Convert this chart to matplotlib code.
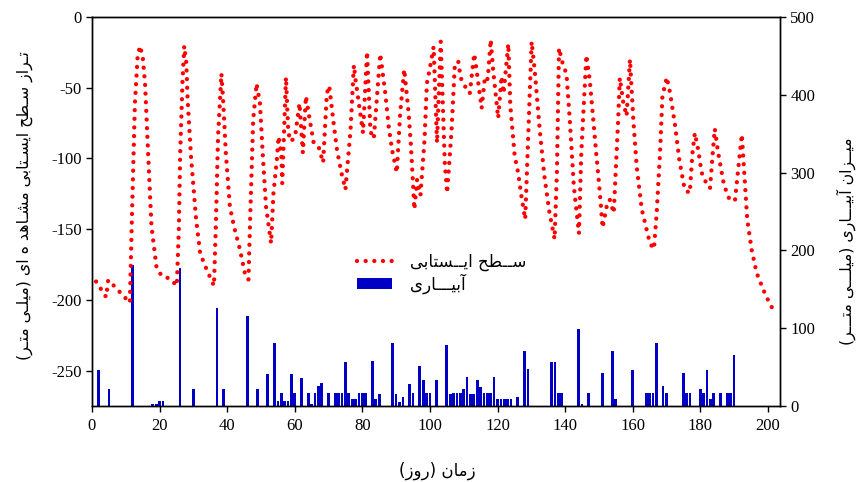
import matplotlib
matplotlib.use("Agg")
import matplotlib.pyplot as plt
from matplotlib.lines import Line2D
from matplotlib.patches import Patch

# ---------------- data ----------------
# water-table level (left axis, mm) : vertices
wt_day = [1.2, 4.2, 4.8, 5.7, 11.2, 11.8, 12.7, 13.5, 14.2, 15.0, 15.7, 16.6, 17.6,
          19.1, 20.6, 23.1, 25.1, 25.7, 26.1, 26.8, 27.3, 27.9, 28.3, 29.3, 30.8,
          32.0, 34.0, 36.1, 36.7, 37.3, 38.3, 38.8, 39.6, 40.8, 42.0, 43.8, 45.3,
          46.3, 46.8, 47.7, 48.7, 49.7, 50.5, 51.5, 52.7, 53.0, 53.7, 54.7, 55.2,
          56.0, 56.3, 57.4, 58.1, 58.9, 60.1, 61.4, 62.4, 63.3, 64.1, 65.6, 67.1,
          68.4, 69.5, 70.2, 71.5, 72.5, 73.8, 75.0, 76.5, 77.5, 78.0, 78.9, 80.2,
          81.4, 82.4, 83.4, 85.3, 86.8, 87.8, 88.8, 90.2, 91.2, 92.4, 93.7, 94.4,
          95.4, 96.2, 97.2, 98.4, 99.1, 100.0, 101.1, 102.1, 103.2, 104.4, 105.1,
          106.4, 107.4, 108.4, 109.1, 110.3, 111.8, 113.1, 113.8, 115.3, 116.3,
          117.1, 118.0, 118.7, 120.2, 121.2, 121.8, 123.2, 123.8, 125.1, 126.1,
          127.1, 128.2, 129.1, 130.1, 131.0, 132.5, 133.9, 135.4, 136.9, 137.6,
          138.2, 139.4, 140.4, 141.4, 142.6, 144.1, 144.8, 146.3, 147.3, 149.2,
          150.3, 151.1, 152.3, 153.2, 154.4, 155.7, 156.2, 157.2, 158.2, 159.2,
          160.2, 161.2, 162.7, 164.1, 165.1, 166.3, 167.1, 168.1, 168.8, 170.1,
          171.1, 172.6, 173.8, 175.4, 176.9, 177.7, 178.4, 179.4, 180.4, 181.7,
          182.9, 183.7, 184.3, 185.3, 187.0, 188.8, 190.3, 191.3, 192.3, 193.3,
          193.9, 195.2, 196.7, 198.7, 200.8, 202.4]
wt_val = [-187, -198, -186, -188, -202, -143, -61, -28, -20.5, -28, -47, -96, -148,
          -177, -183, -185, -190, -150, -96, -44.5, -20.5, -32, -58.6, -98.6, -143,
          -167, -179, -190, -143, -84.5, -40, -58.6, -96, -134, -148, -164.5, -182,
          -185.7, -143, -72.7, -47, -61, -96, -134, -155, -160, -124.5, -101, -84.5,
          -96, -117.5, -42.6, -82, -88, -84.5, -61, -96, -56, -68, -89, -92,
          -103, -54, -48.7, -75, -94, -110, -122, -80, -34, -44.5, -60, -82,
          -24.5, -81, -86, -26, -54, -77.5, -94, -110, -68, -37, -68, -91.5,
          -136, -115, -126, -87, -47, -36, -21, -89, -17.4, -103, -124.5,
          -80, -32.7, -31.6, -43, -48.7, -54, -26, -37.4, -64.5, -42,
          -44, -16, -37.4, -71.5, -42, -54, -19, -63, -98.6, -110,
          -127, -143, -84.5, -17.4, -37.4, -80, -113, -138.6, -157, -108,
          -22, -34, -40, -73, -120, -153, -96, -27, -44.5, -96,
          -124.5, -149, -134, -129, -138.6, -73, -43, -60, -70, -30,
          -73, -106, -136, -150, -160, -164, -138.6, -96, -56, -42.6,
          -54, -77.5, -101, -122, -124.5, -96, -82, -94, -110, -117,
          -121, -96, -79, -96, -118.6, -130, -129, -106, -83, -120,
          -143, -164.5, -181, -193, -204, -209]

# irrigation (right axis, mm)
irr_day = [2, 5, 12, 18, 19, 20, 21, 26, 30, 37, 39, 46, 49, 52, 54, 55, 56, 57, 58,
           59, 60, 62, 64, 65, 66, 67, 68, 70, 72, 73, 74, 75, 76, 77, 78, 79, 80,
           81, 83, 84, 85, 89, 90, 91, 92, 94, 95, 97, 98, 99, 100, 102, 105, 106,
           107, 108, 109, 110, 111, 112, 113, 114, 115, 116, 117, 118, 119, 120,
           121, 122, 123, 124, 126, 128, 129, 136, 137, 138, 139, 144, 145, 147,
           151, 154, 155, 160, 164, 165, 166, 167, 169, 170, 175, 176, 177, 180,
           181, 182, 183, 184, 186, 188, 189, 190]
irr_val = [46, 22, 181, 3, 3, 6, 6, 177, 22, 126, 22, 116, 22, 41, 81, 6, 17, 6, 6,
           41, 17, 36, 17, 3, 17, 26, 30, 17, 17, 17, 17, 57, 17, 9, 9, 17, 17,
           17, 58, 9, 16, 81, 16, 5, 11, 28, 17, 51, 33, 17, 17, 33, 78, 16,
           17, 17, 17, 22, 37, 15, 15, 33, 24, 17, 17, 17, 37, 9,
           9, 9, 9, 9, 11, 71, 48, 57, 57, 17, 17, 99, 3, 17,
           42, 71, 9, 46, 17, 17, 17, 81, 26, 17, 42, 17, 17, 22,
           17, 46, 9, 17, 17, 17, 17, 66]

x_ticks = list(range(0, 201, 20))
left_ticks = [0, -50, -100, -150, -200, -250]
right_ticks = [0, 100, 200, 300, 400, 500]

left_label = "تـراز سـطح ایسـتابی مشـاهد ه ای (میلـی متـر)"
right_label = "میــزان آبیـــاری (میلـــی متـــر)"
x_label = "زمان (روز)"
leg_line = "ســطح ایــستابی"
leg_bar = "آبیـــاری"

# ---------------- simple Persian shaping (presentation forms, visual order) ----------------
FORMS = {
    'آ': ('\uFE81', '\uFE82'),
    'ا': ('\uFE8D', '\uFE8E'),
    'ب': ('\uFE8F', '\uFE90', '\uFE91', '\uFE92'),
    'ت': ('\uFE95', '\uFE96', '\uFE97', '\uFE98'),
    'ح': ('\uFEA1', '\uFEA2', '\uFEA3', '\uFEA4'),
    'د': ('\uFEA9', '\uFEAA'),
    'ر': ('\uFEAD', '\uFEAE'),
    'ز': ('\uFEAF', '\uFEB0'),
    'س': ('\uFEB1', '\uFEB2', '\uFEB3', '\uFEB4'),
    'ش': ('\uFEB5', '\uFEB6', '\uFEB7', '\uFEB8'),
    'ط': ('\uFEC1', '\uFEC2', '\uFEC3', '\uFEC4'),
    'ل': ('\uFEDD', '\uFEDE', '\uFEDF', '\uFEE0'),
    'م': ('\uFEE1', '\uFEE2', '\uFEE3', '\uFEE4'),
    'ن': ('\uFEE5', '\uFEE6', '\uFEE7', '\uFEE8'),
    'ه': ('\uFEE9', '\uFEEA', '\uFEEB', '\uFEEC'),
    'و': ('\uFEED', '\uFEEE'),
    'ی': ('\uFEEF', '\uFEF0', '\uFEF3', '\uFEF4'),
}
TATWEEL = '\u0640'


def _dual(c):
    return c == TATWEEL or (c in FORMS and len(FORMS[c]) == 4)


def _joins(c):
    return c == TATWEEL or c in FORMS


def shape(s):
    out = []
    n = len(s)
    for i, c in enumerate(s):
        if c not in FORMS:
            out.append(c)
            continue
        prev = s[i - 1] if i > 0 else ''
        nxt = s[i + 1] if i + 1 < n else ''
        jp = prev != '' and _dual(prev)
        jn = len(FORMS[c]) == 4 and nxt != '' and _joins(nxt)
        f = FORMS[c]
        if jp and jn:
            g = f[3]
        elif jp:
            g = f[1]
        elif jn:
            g = f[2]
        else:
            g = f[0]
        out.append(g)
    vis = ''.join(reversed(out))
    return vis.translate(str.maketrans('()', ')('))


# ---------------- figure ----------------
plt.rcParams['axes.unicode_minus'] = False
SERIF = ['Liberation Serif', 'DejaVu Sans']
AR = ['DejaVu Sans', 'Liberation Serif']

fig = plt.figure(figsize=(8.57, 4.82), dpi=100)
ax = fig.add_axes([92 / 857, 1 - 406 / 482, (780 - 92) / 857, (406 - 17) / 482])
ax2 = ax.twinx()
ax.set_zorder(ax2.get_zorder() + 1)
ax.patch.set_visible(False)

RED = '#ff0000'
BLUE = '#0000c4'
DOTS = (0, (0.01, 2.0))

ax2.bar(irr_day, irr_val, width=0.8, color=BLUE, linewidth=0)
ax.plot(wt_day, wt_val, color=RED, linewidth=3.1, linestyle=DOTS, dash_capstyle='round')

ax.set_xlim(0, 203.6)
ax.set_ylim(-275, 0)
ax2.set_ylim(0, 500)

ax.set_xticks(x_ticks)
ax.set_yticks(left_ticks)
ax2.set_yticks(right_ticks)
for a in (ax, ax2):
    a.tick_params(direction='out', length=4, width=1, labelsize=12, colors='black')
    for lab in a.get_xticklabels() + a.get_yticklabels():
        lab.set_family(SERIF)
    for sp in a.spines.values():
        sp.set_linewidth(1.0)
ax.tick_params(axis='x', pad=5)

fig.text(25 / 857, 1 - 206 / 482, shape(left_label), rotation=90, ha='center', va='center',
         fontsize=11.3, family=AR)
fig.text(846 / 857, 1 - 241 / 482, shape(right_label), rotation=90, ha='center', va='center',
         fontsize=11.3, family=AR)
fig.text(437 / 857, 1 - 471 / 482, shape(x_label), ha='center', va='center',
         fontsize=12, family=AR)

handles = [Line2D([0], [0], color=RED, linewidth=3.1, linestyle=DOTS, dash_capstyle='round'),
           Patch(facecolor=BLUE, edgecolor='none')]
leg = fig.legend(handles, [shape(leg_line), shape(leg_bar)], loc='upper left',
                 bbox_to_anchor=(357 / 857, 1 - 253 / 482), frameon=False,
                 borderpad=0, borderaxespad=0, handlelength=2.1, handletextpad=1.1,
                 labelspacing=0.1, prop={'family': AR, 'size': 12})

fig.savefig('out.png', dpi=100)
